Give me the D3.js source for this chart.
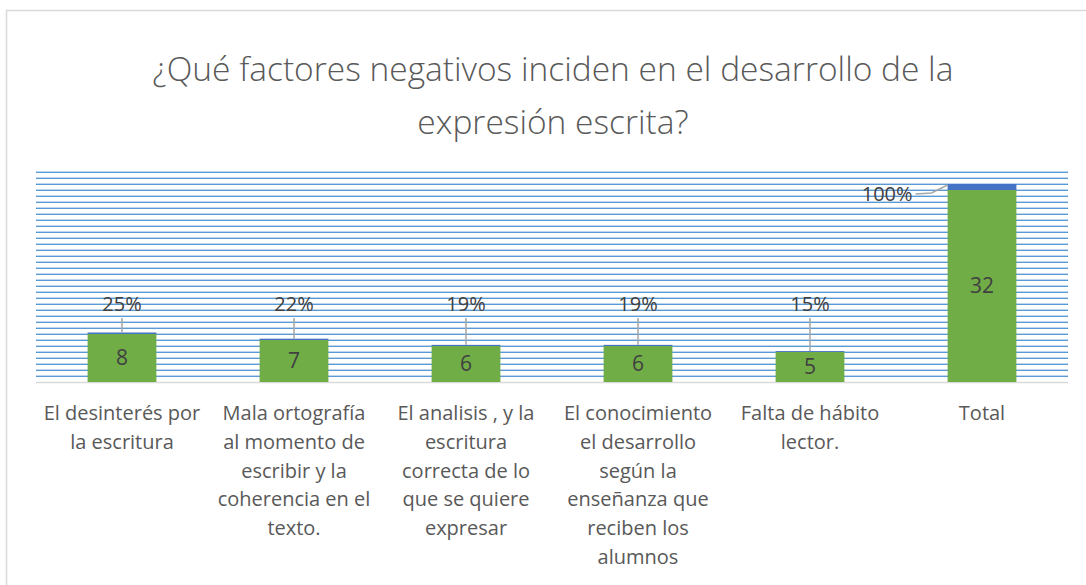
<!DOCTYPE html>
<html>
<head>
<meta charset="utf-8">
<script src="https://cdn.jsdelivr.net/npm/d3@7"></script>
<style>
  body { margin: 0; background: #fff; }
  text { font-family: "Open Sans", "Noto Sans", sans-serif; }
</style>
</head>
<body>
<div id="container"></div>
<script>
// categories shown on the x axis (one label line per entry)
const categories = [
    ["El desinterés por", "la escritura"],
    ["Mala ortografía", "al momento de", "escribir y la", "coherencia en el", "texto."],
    ["El analisis , y la", "escritura", "correcta de lo", "que se quiere", "expresar"],
    ["El conocimiento", "el desarrollo", "según la", "enseñanza que", "reciben los", "alumnos"],
    ["Falta de hábito", "lector."],
    ["Total"]
];
// counts (green) and percentage (blue, stacked on top)
const counts = [8, 7, 6, 6, 5, 32];
const percents = [0.25, 0.22, 0.19, 0.19, 0.15, 1.00];
const pctLabels = ["25%", "22%", "19%", "19%", "15%", "100%"];
const titleLines = ["¿Qué factores negativos inciden en el desarrollo de la", "expresión escrita?"];

const width = 1086;
const height = 585;
const plot = {left: 36, right: 1068, top: 170, bottom: 382};
const yMax = 35;

const svg = d3.select("#container")
    .append("svg")
    .attr("width", width)
    .attr("height", height);

//chart border
svg.append("rect")
    .attr("x", 6.5)
    .attr("y", 10.5)
    .attr("width", 1200)
    .attr("height", 700)
    .attr("fill", "#fff")
    .attr("stroke", "#d9d9d9")
    .attr("stroke-width", 1.5);

//title
svg.append("text")
    .attr("x", 553)
    .attr("y", 81)
    .attr("text-anchor", "middle")
    .attr("font-size", 33.5)
    .attr("font-weight", 300)
    .attr("fill", "#595959")
    .selectAll("tspan")
    .data(titleLines)
    .join("tspan")
    .attr("x", 553)
    .attr("dy", (d, i) => i === 0 ? 0 : 53)
    .text(d => d);

const xScale = d3.scaleBand()
    .domain(d3.range(categories.length))
    .range([plot.left, plot.right])
    .paddingInner(0.6)
    .paddingOuter(0.3);

const yScale = d3.scaleLinear()
    .domain([0, yMax])
    .range([plot.bottom, plot.bottom - yMax * 6]);

//gridlines, one every unit
const ticks = d3.range(1, yMax + 1);
svg.append("g")
    .selectAll("line.light")
    .data(ticks)
    .join("line")
    .attr("x1", plot.left)
    .attr("x2", plot.right)
    .attr("y1", d => Math.round(yScale(d)) - 0.5)
    .attr("y2", d => Math.round(yScale(d)) - 0.5)
    .attr("stroke", "#bdd7ee")
    .attr("stroke-width", 1);
svg.append("g")
    .selectAll("line")
    .data(ticks)
    .join("line")
    .attr("x1", plot.left)
    .attr("x2", plot.right)
    .attr("y1", d => Math.round(yScale(d)) + 0.5)
    .attr("y2", d => Math.round(yScale(d)) + 0.5)
    .attr("stroke", "#5b9bd5")
    .attr("stroke-width", 1.2);

//bottom axis line
svg.append("line")
    .attr("x1", plot.left)
    .attr("x2", plot.right)
    .attr("y1", yScale(0) + 0.5)
    .attr("y2", yScale(0) + 0.5)
    .attr("stroke", "#d9d9d9")
    .attr("stroke-width", 1.5);

//green bars
svg.append("g")
    .selectAll("rect")
    .data(counts)
    .join("rect")
    .attr("x", (d, i) => xScale(i))
    .attr("y", d => yScale(d))
    .attr("width", xScale.bandwidth())
    .attr("height", d => yScale(0) - yScale(d))
    .attr("fill", "#70ad47");

//blue bars on top
svg.append("g")
    .selectAll("rect")
    .data(percents)
    .join("rect")
    .attr("x", (d, i) => xScale(i))
    .attr("y", (d, i) => yScale(counts[i] + d))
    .attr("width", xScale.bandwidth())
    .attr("height", (d, i) => yScale(counts[i]) - yScale(counts[i] + d))
    .attr("fill", "#4472c4");

//count labels
svg.append("g")
    .selectAll("text")
    .data(counts)
    .join("text")
    .attr("x", (d, i) => xScale(i) + xScale.bandwidth() / 2)
    .attr("y", d => yScale(d / 2))
    .attr("dy", "0.35em")
    .attr("text-anchor", "middle")
    .attr("font-size", 21)
    .attr("fill", "#404040")
    .text(d => d);

//percent labels with leader lines
const labelLevel = 13;
percents.forEach((p, i) => {
    const cx = xScale(i) + xScale.bandwidth() / 2;
    const top = yScale(counts[i] + p);
    if (i < percents.length - 1) {
        svg.append("line")
            .attr("x1", cx)
            .attr("x2", cx)
            .attr("y1", yScale(labelLevel) + 14)
            .attr("y2", top)
            .attr("stroke", "#a6a6a6")
            .attr("stroke-width", 1.5);
        svg.append("text")
            .attr("x", cx)
            .attr("y", yScale(labelLevel))
            .attr("dy", "0.35em")
            .attr("text-anchor", "middle")
            .attr("font-size", 20)
            .attr("fill", "#404040")
            .text(pctLabels[i]);
    } else {
        // total label sits to the left of the bar
        const lx = xScale(i) - 24;
        svg.append("polyline")
            .attr("points", `${lx - 8},${top + 10} ${lx + 8},${top + 9} ${xScale(i)},${top + 1}`)
            .attr("fill", "none")
            .attr("stroke", "#a6a6a6")
            .attr("stroke-width", 1.5);
        svg.append("text")
            .attr("x", lx - 11)
            .attr("y", top + 10)
            .attr("dy", "0.35em")
            .attr("text-anchor", "end")
            .attr("font-size", 20)
            .attr("fill", "#404040")
            .text(pctLabels[i]);
    }
});

//category labels
svg.append("g")
    .selectAll("text")
    .data(categories)
    .join("text")
    .attr("text-anchor", "middle")
    .attr("font-size", 20)
    .attr("fill", "#595959")
    .each(function(lines, i) {
        const cx = xScale(i) + xScale.bandwidth() / 2;
        d3.select(this).selectAll("tspan")
            .data(lines)
            .join("tspan")
            .attr("x", cx)
            .attr("y", (d, j) => 420 + j * 28.8)
            .text(d => d);
    });
</script>
</body>
</html>
